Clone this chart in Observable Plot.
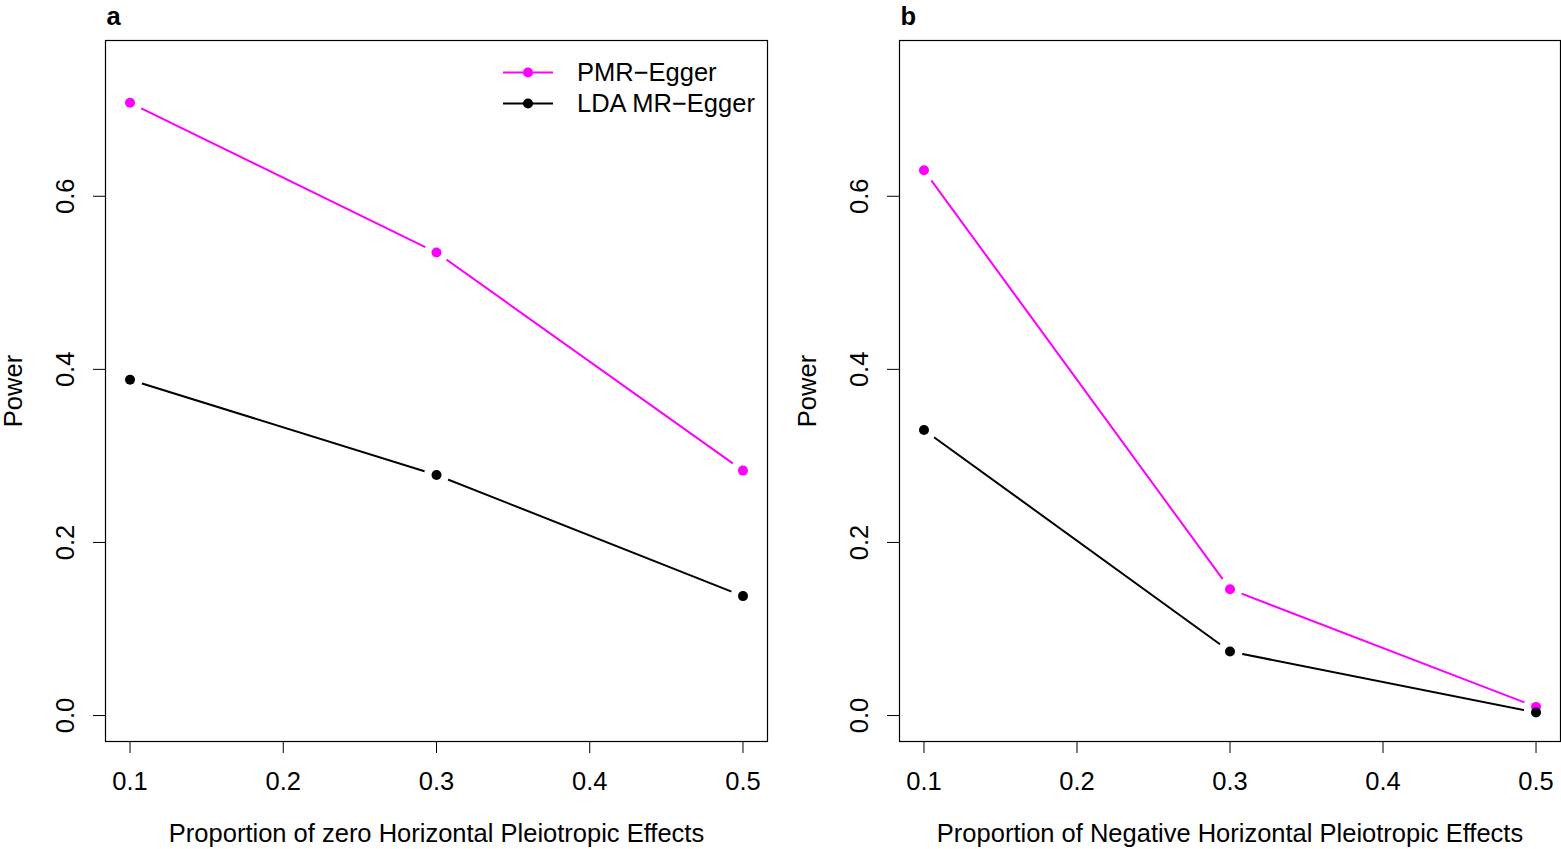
<!DOCTYPE html>
<html><head><meta charset="utf-8">
<script src="https://cdn.jsdelivr.net/npm/d3@7"></script>
<script src="https://cdn.jsdelivr.net/npm/@observablehq/plot@0.6"></script>
<style>
body{margin:0;background:#fff;}
#wrap{position:relative;width:1561px;height:849px;overflow:hidden;background:#fff;font-family:"Liberation Sans",Arial,sans-serif;}
#wrap > svg{position:absolute;top:0;}
#legend{position:absolute;left:503px;top:57px;font-size:25.5px;color:#000;}
#legend .row{display:flex;align-items:center;height:31px;}
#legend .row svg{margin-right:24px;flex:none;}
</style></head><body><div id="wrap"></div>
<script>
const xValues = [0.1, 0.3, 0.5];
const pmrZero = [0.708, 0.535, 0.283];
const ldaZero = [0.388, 0.278, 0.138];
const pmrNeg = [0.630, 0.146, 0.010];
const ldaNeg = [0.330, 0.074, 0.0035];
const xTicks = [0.1, 0.2, 0.3, 0.4, 0.5];
const yTicks = [0.0, 0.2, 0.4, 0.6];
const seriesNames = ["PMR−Egger", "LDA MR−Egger"];
const seriesColors = ["#ff00ff", "#000000"];
const panelLabels = ["a", "b"];
const xTitles = ["Proportion of zero Horizontal Pleiotropic Effects", "Proportion of Negative Horizontal Pleiotropic Effects"];
const yTitle = "Power";

const FONT = "'Liberation Sans', Arial, Helvetica, sans-serif";
const FS = 25.5;
const fmt = d3.format(".1f");

function panel(label, xTitle, pmr, lda, width, ml, mr) {
  const rows = [];
  xValues.forEach((x, i) => rows.push({series: seriesNames[0], x, y: pmr[i]}));
  xValues.forEach((x, i) => rows.push({series: seriesNames[1], x, y: lda[i]}));
  return Plot.plot({
    width, height: 849,
    marginLeft: ml, marginRight: mr, marginTop: 40, marginBottom: 108,
    x: {domain: [0.084, 0.516]},
    y: {domain: [-0.03, 0.78]},
    color: {domain: seriesNames, range: seriesColors},
    style: {fontFamily: FONT, fontSize: FS + "px", background: "transparent", color: "black", overflow: "visible"},
    marks: [
      Plot.axisX({ticks: xTicks, tickSize: 12, tickFormat: () => "", label: null, stroke: "black"}),
      Plot.axisY({ticks: yTicks, tickSize: 12, tickFormat: () => "", label: null, stroke: "black"}),
      Plot.text(xTicks, {x: d => d, text: d => fmt(d), frameAnchor: "bottom", dy: 40, lineAnchor: "middle", fontSize: FS, fill: "black"}),
      Plot.text(yTicks, {y: d => d, text: d => fmt(d), frameAnchor: "left", dx: -40, rotate: -90, lineAnchor: "middle", textAnchor: "middle", fontSize: FS, fill: "black"}),
      Plot.line(rows, {x: "x", y: "y", z: "series", stroke: "series", strokeWidth: 2}),
      Plot.dot(rows, {x: "x", y: "y", r: 12.5, fill: "white", stroke: null}),
      Plot.dot(rows, {x: "x", y: "y", r: 5, fill: "series", stroke: null}),
      Plot.frame({stroke: "black", strokeWidth: 1.2}),
      Plot.text([label], {text: d => d, frameAnchor: "top-left", dx: 1, dy: -24, textAnchor: "start", lineAnchor: "middle", fontWeight: "bold", fontSize: FS, fill: "black"}),
      Plot.text([yTitle], {text: d => d, frameAnchor: "left", dx: -92, rotate: -90, lineAnchor: "middle", textAnchor: "middle", fontSize: FS, fill: "black"}),
      Plot.text([xTitle], {text: d => d, frameAnchor: "bottom", dy: 92, lineAnchor: "middle", textAnchor: "middle", fontSize: FS, fill: "black"})
    ]
  });
}

const wrap = document.getElementById("wrap");
const a = panel(panelLabels[0], xTitles[0], pmrZero, ldaZero, 780, 105, 13);
a.style.left = "0px";
wrap.appendChild(a);
const b = panel(panelLabels[1], xTitles[1], pmrNeg, ldaNeg, 781, 119, 1);
b.style.left = "780px";
wrap.appendChild(b);

// legend (panel a, top right)
const legend = document.createElement("div");
legend.id = "legend";
seriesNames.forEach((name, i) => {
  const row = document.createElement("div");
  row.className = "row";
  row.innerHTML = `<svg width="50" height="31"><line x1="0" x2="50" y1="15.5" y2="15.5" stroke="${seriesColors[i]}" stroke-width="2"/><circle cx="25" cy="15.5" r="5" fill="${seriesColors[i]}"/></svg><span>${name}</span>`;
  legend.appendChild(row);
});
wrap.appendChild(legend);
</script>
</body></html>
